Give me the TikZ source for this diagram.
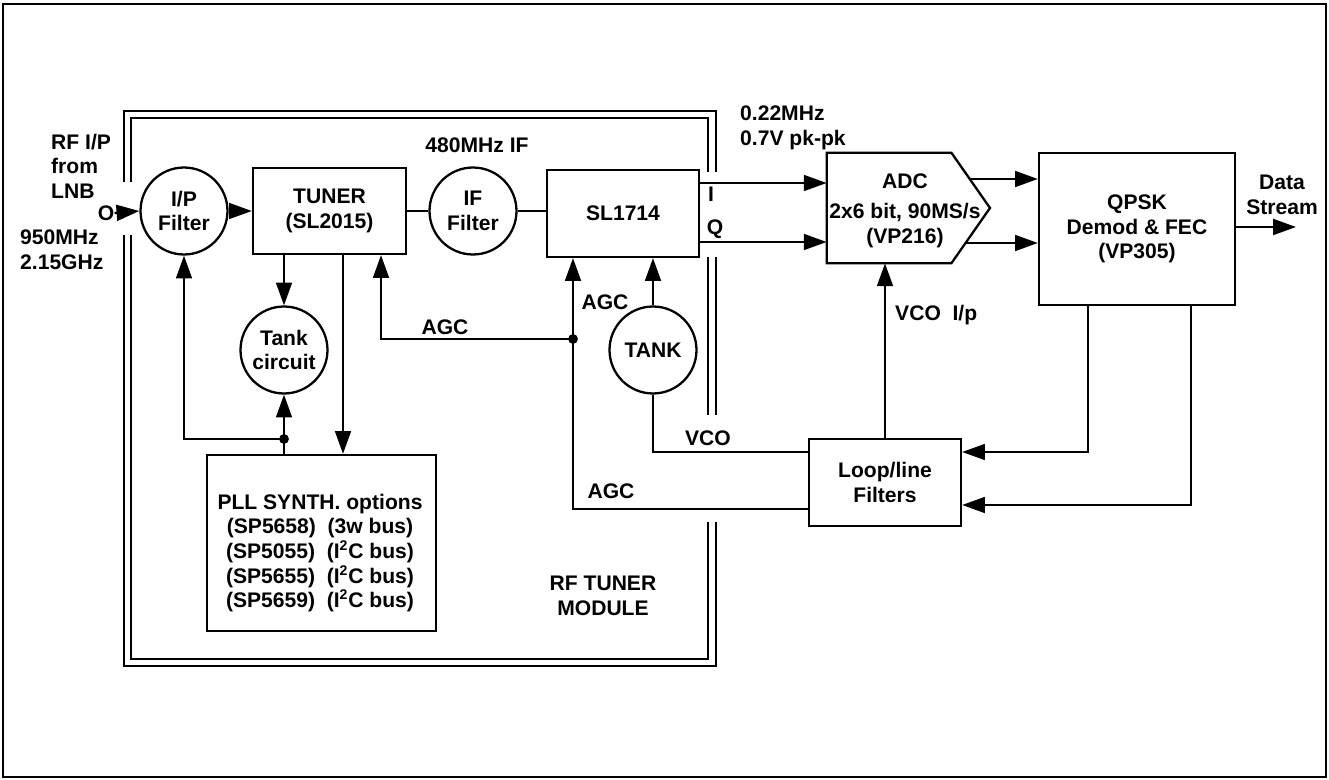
\documentclass[tikz,border=0pt]{standalone}
\usepackage{fontspec}
\setmainfont{Liberation Sans}
\usetikzlibrary{arrows.meta,positioning}

\tikzset{
  every node/.style={font=\bfseries\fontsize{12}{14}\selectfont, align=center},
  blk/.style={draw, line width=1.3pt, inner sep=0pt},
  flt/.style={draw, circle, line width=1.3pt, inner sep=0pt, minimum size=1.74cm},
  wire/.style={line width=1.3pt},
  arr/.style={wire, -{Triangle[length=13pt,width=9pt]}},
  modline/.style={line width=1.1pt},
}

\begin{document}
\begin{tikzpicture}[x=0.02cm, y=-0.02cm]
\useasboundingbox (0,0) rectangle (1329,780);
% outer frame
\draw[line width=1.6pt] (3,4) rectangle (1326,777);

% RF tuner module, double border with gaps
\foreach \l/\t/\r/\b in {124/111/716/666, 131/118/708/659} {
  \draw[modline] (\l,182) |- (\r,\t) -- (\r,172);
  \draw[modline] (\r,257) -- (\r,415);
  \draw[modline] (\r,522) |- (\l,\b) -- (\l,235);
}

% Blocks
\node[inner sep=0pt] (rfin) at (106,213) {O};
\node[flt] (ipf) at (184,211) {I/P\\Filter};
\node[blk, minimum width=3.06cm, minimum height=1.72cm] (tuner) at (329.5,211) {TUNER\\(SL2015)};
\node[flt] (iff) at (473,211) {IF\\Filter};
\node[blk, minimum width=3.04cm, minimum height=1.74cm] (sl) at (623,213.5) {SL1714};
\node[flt] (tankc) at (284,350) {Tank\\circuit};
\node[flt] (tank) at (653,350) {TANK};
\node[blk, minimum width=4.58cm, minimum height=3.52cm] (pll) at (321.5,543) {};
\node (plltext) at (320,553) {PLL SYNTH. options\\(SP5658)\ \ (3w bus)\\(SP5055)\ \ (I\textsuperscript{2}C bus)\\(SP5655)\ \ (I\textsuperscript{2}C bus)\\(SP5659)\ \ (I\textsuperscript{2}C bus)};
\node[minimum width=2.48cm, minimum height=2.2cm, inner sep=0pt] (adc) at (889,208) {};
\coordinate (adctip) at (990,208);
\draw[wire] (adc.north west) -- (adc.north east) -- (adctip) -- (adc.south east) -- (adc.south west) -- cycle;
\node (adctext) at (905,211) {ADC\\[3pt]2x6 bit, 90MS/s\\(VP216)};
\node[blk, minimum width=3.92cm, minimum height=3.04cm] (qpsk) at (1137,229) {QPSK\\Demod \& FEC\\(VP305)};
\node[blk, minimum width=3.04cm, minimum height=1.74cm] (loop) at (885,482.5) {Loop/line\\Filters};

% Labels
\node[align=left, anchor=west] (lblrf) at (45,166) {RF I/P\\from\\LNB};
\node[align=left, anchor=west] (lblfreq) at (14,250) {950MHz\\2.15GHz};
\node (lblif) at (477,145) {480MHz IF};
\node[align=left, anchor=west] (lblbw) at (734,128) {0.22MHz\\0.7V pk-pk};
\node (lbli) at (711,194) {I};
\node (lblq) at (715,229) {Q};
\node (lbldata) at (1282,195) {Data\\Stream};
\node[anchor=west] (lblvcoip) at (889,315) {VCO\ \ I/p};
\node (lblagca) at (445,327) {AGC};
\node (lblagcb) at (605,302) {AGC};
\node (lblagcc) at (611,491) {AGC};
\node (lblvco) at (708,438) {VCO};
\node (lblmod) at (603,596) {RF TUNER\\MODULE};

% Signal path
\draw[arr] (rfin.east) -- (ipf.west);
\draw[arr] (ipf.east) -- (tuner.west);
\draw[wire] (tuner.east) -- (iff.west);
\draw[wire] (iff.east) -- (sl.west |- iff.east);
\draw[arr] (sl.east |- 0,183) -- (adc.west |- 0,183);
\draw[arr] (sl.east |- 0,242) -- (adc.west |- 0,242);
\coordinate (adcouta) at (969,179);
\coordinate (adcoutb) at (966,243);
\draw[arr] (adcouta) -- (qpsk.west |- adcouta);
\draw[arr] (adcoutb) -- (qpsk.west |- adcoutb);
\coordinate (dataout) at (1296,227);
\draw[arr] (qpsk.east |- dataout) -- (dataout);

% Control loops
\draw[arr] (qpsk.south -| 1088,0) |- (loop.east |- 0,452);
\draw[arr] (qpsk.south -| 1191,0) |- (loop.east |- 0,505);
\draw[arr] (loop.north) -- (loop.north |- adc.south);
\draw[wire] (tank.south) |- (loop.west |- 0,452);
\draw[arr] (tank.north) -- (tank.north |- sl.south);
\draw[arr] (loop.west |- 0,509) -| (sl.south -| 573,0);
\coordinate (agcj) at (573,339);
\fill (agcj) circle (2.8pt);
\draw[arr] (agcj) -| (tuner.south -| 381,0);

% Synthesiser
\draw[arr] (tankc.north |- tuner.south) -- (tankc.north);
\draw[arr] (tuner.south -| 343,0) -- (pll.north -| 343,0);
\coordinate (pllj) at (284,439);
\draw[wire] (pll.north -| pllj) -- (pllj);
\draw[arr] (pllj) -- (tankc.south);
\fill (pllj) circle (2.8pt);
\draw[arr] (pllj) -| (ipf.south);
\end{tikzpicture}
\end{document}
